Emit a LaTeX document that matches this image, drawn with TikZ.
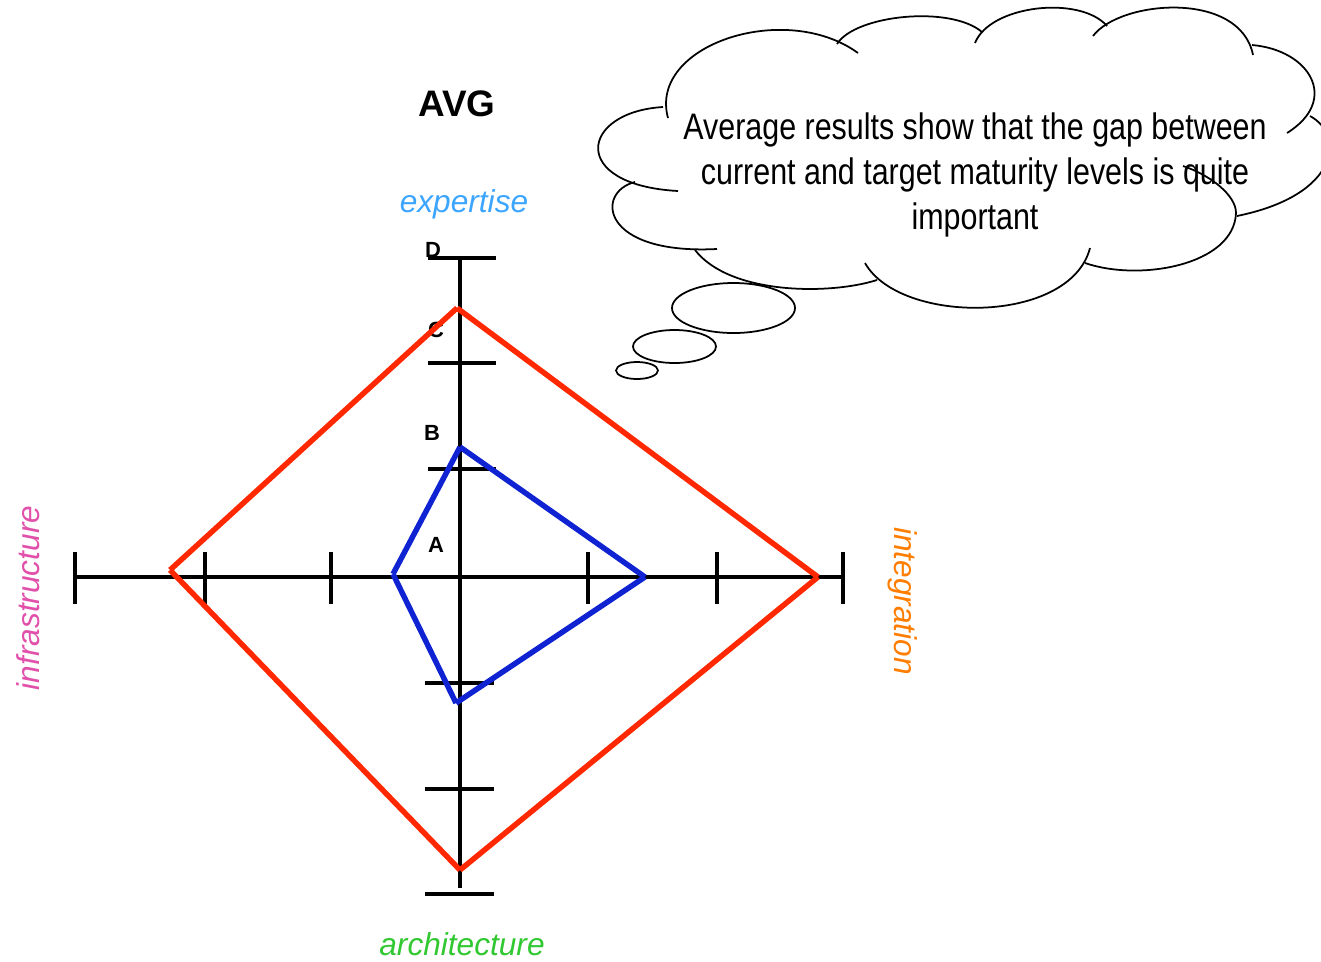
\documentclass[tikz,border=0pt]{standalone}
\usepackage{fontspec}
\setmainfont{Liberation Sans}
\newfontfamily\narrowfont[FakeStretch=0.825]{Liberation Sans}
\definecolor{targetred}{RGB}{255,40,0}
\definecolor{currentblue}{RGB}{15,35,210}
\definecolor{expcol}{RGB}{60,165,255}
\definecolor{archcol}{RGB}{50,200,50}
\definecolor{infcol}{RGB}{225,80,170}
\definecolor{intcol}{RGB}{255,125,0}
\tikzset{
	axisline/.style={line width=2.4pt},
	tickline/.style={line width=2.3pt},
	target/.style={line width=3.1pt, targetred},
	current/.style={line width=3.1pt, currentblue},
	cloudline/.style={line width=1pt},
	axislabel/.style={font=\fontsize{18}{18}\selectfont\itshape},
	level/.style={font=\fontsize{12.5}{12.5}\selectfont\bfseries},
}
\begin{document}
\begin{tikzpicture}[x=0.02cm, y=-0.02cm]
	\useasboundingbox (0,0) rectangle (1321,961);
	% title and axis labels
	\node (avg) at (457,104) [font=\fontsize{21}{21}\selectfont\bfseries] {AVG};
	\node (expertise) at (464,204) [axislabel, expcol] {expertise};
	\node (architecture) at (462,944) [axislabel, archcol] {architecture};
	\node (infrastructure) at (28,598) [axislabel, infcol, rotate=90] {infrastructure};
	\node (integration) at (903,601) [axislabel, intcol, rotate=-90] {integration};
	% levels
	\node (D) at (433,250) [level] {D};
	\node (C) at (436,330) [level] {C};
	\node (B) at (432,433) [level] {B};
	\node (A) at (436,545) [level] {A};
	% axes
	\coordinate (vtop) at (460,258);
	\coordinate (vbot) at (460,888);
	\coordinate (hleft) at (75,577);
	\coordinate (hright) at (843,577);
	\draw [axisline] (vtop) -- (vbot);
	\draw [axisline] (hleft) -- (hright);
	\foreach \y in {258,363,469}
		\draw [tickline] (428,\y) -- (496,\y);
	\foreach \y in {683,789,894}
		\draw [tickline] (425,\y) -- (494,\y);
	\foreach \x in {75,205,331,588,717,843}
		\draw [tickline] (\x,552) -- (\x,604);
	% target
	\coordinate (rtop) at (457,308);
	\coordinate (rright) at (818,577);
	\coordinate (rbot) at (460,870);
	\coordinate (rleft) at (170,570);
	\draw [target] (rleft) -- (rtop);
	\draw [target] (rtop) -- (rright);
	\draw [target] (rright) -- (rbot);
	\draw [target] (rbot) -- (rleft);
	% current
	\coordinate (btop) at (460,447);
	\coordinate (bright) at (645,577);
	\coordinate (bbot) at (456,703);
	\coordinate (bleft) at (393,574);
	\draw [current] (bleft) -- (btop);
	\draw [current] (btop) -- (bright);
	\draw [current] (bright) -- (bbot);
	\draw [current] (bbot) -- (bleft);
	% thought cloud
	\node (thought) at (975,175) [font=\narrowfont\fontsize{21}{25.6}\selectfont, align=center]
		{Average results show that the gap between\\current and target maturity levels is quite\\important};
	\draw [cloudline] (668,118) .. controls (648,45) and (785,0) .. (858,53);
	\draw [cloudline] (837,44) .. controls (855,15) and (950,5) .. (982,32);
	\draw [cloudline] (975,43) .. controls (990,5) and (1080,-5) .. (1107,26);
	\draw [cloudline] (1093,36) .. controls (1120,0) and (1240,-10) .. (1253,55);
	\draw [cloudline] (1252,45) .. controls (1310,50) and (1340,100) .. (1287,133);
	\draw [cloudline] (1310,116) .. controls (1345,135) and (1340,195) .. (1237,216);
	\draw [cloudline] (1183,166) .. controls (1210,175) and (1236,195) .. (1236,213)
		.. controls (1234,265) and (1140,282) .. (1085,263);
	\draw [cloudline] (1090,248) .. controls (1070,325) and (900,325) .. (865,263);
	\draw [cloudline] (877,280) .. controls (830,295) and (730,295) .. (695,250);
	\draw [cloudline] (717,249) .. controls (600,255) and (595,192) .. (635,182);
	\draw [cloudline] (678,191) .. controls (568,185) and (580,112) .. (663,107);
	\draw [cloudline] (733.5,308) ellipse [x radius=61.5, y radius=25];
	\draw [cloudline] (674.5,346.5) ellipse [x radius=41.5, y radius=16.5];
	\draw [cloudline] (637,370.5) ellipse [x radius=21, y radius=8.5];
\end{tikzpicture}
\end{document}
